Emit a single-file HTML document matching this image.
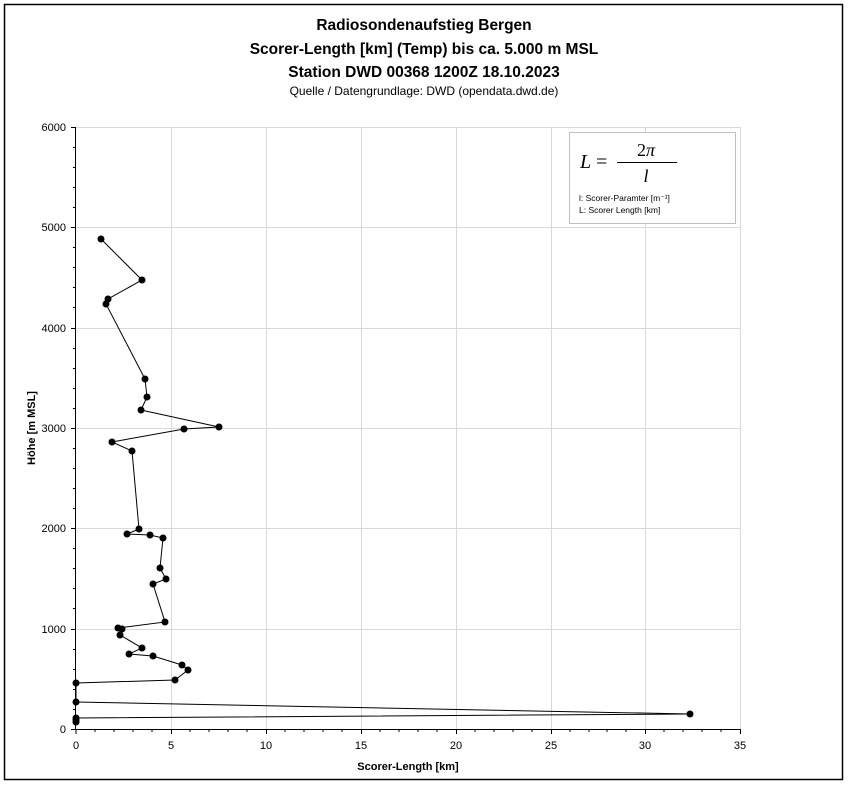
<!DOCTYPE html>
<html><head><meta charset="utf-8"><style>
body{margin:0;background:#fff;}
svg{display:block;font-family:"Liberation Sans",sans-serif;}
</style></head><body>
<svg width="848" height="785" viewBox="0 0 848 785">
<rect x="0" y="0" width="848" height="785" fill="#fff"/>
<rect x="4.5" y="4.5" width="838" height="775" fill="none" stroke="#000" stroke-width="1.5"/>
<g text-anchor="middle" font-weight="bold" font-size="15.5" fill="#000">
<text x="424" y="30">Radiosondenaufstieg Bergen</text>
<text x="424" y="54">Scorer-Length [km] (Temp) bis ca. 5.000 m MSL</text>
<text x="424" y="77">Station DWD 00368 1200Z 18.10.2023</text>
</g>
<text x="424" y="95" text-anchor="middle" font-size="12">Quelle / Datengrundlage: DWD (opendata.dwd.de)</text>
<g stroke="#d9d9d9" stroke-width="1">
<line x1="76" y1="127.5" x2="740" y2="127.5"/>
<line x1="76" y1="227.5" x2="740" y2="227.5"/>
<line x1="76" y1="328.5" x2="740" y2="328.5"/>
<line x1="76" y1="428.5" x2="740" y2="428.5"/>
<line x1="76" y1="528.5" x2="740" y2="528.5"/>
<line x1="76" y1="629.5" x2="740" y2="629.5"/>
<line x1="171.5" y1="127" x2="171.5" y2="729"/>
<line x1="266.5" y1="127" x2="266.5" y2="729"/>
<line x1="361.5" y1="127" x2="361.5" y2="729"/>
<line x1="456.5" y1="127" x2="456.5" y2="729"/>
<line x1="551.5" y1="127" x2="551.5" y2="729"/>
<line x1="645.5" y1="127" x2="645.5" y2="729"/>
<line x1="740.5" y1="127" x2="740.5" y2="729"/>
</g>
<g stroke="#000" stroke-width="1">
<line x1="75.5" y1="127" x2="75.5" y2="729.5"/>
<line x1="75" y1="729.5" x2="740" y2="729.5"/>
<path id="yt" d=""/>
</g>
<g stroke="#000" stroke-width="1" id="ticks"></g>
<g font-size="11" fill="#000" text-anchor="end">
<text x="66" y="131">6000</text><text x="66" y="231">5000</text><text x="66" y="332">4000</text>
<text x="66" y="432">3000</text><text x="66" y="532">2000</text><text x="66" y="633">1000</text><text x="66" y="733">0</text>
</g>
<g font-size="11" fill="#000" text-anchor="middle">
<text x="76" y="749">0</text><text x="171" y="749">5</text><text x="266" y="749">10</text><text x="361" y="749">15</text>
<text x="456" y="749">20</text><text x="551" y="749">25</text><text x="645" y="749">30</text><text x="740" y="749">35</text>
</g>
<text x="408" y="770" text-anchor="middle" font-size="11" font-weight="bold">Scorer-Length [km]</text>
<text transform="translate(35,428) rotate(-90)" text-anchor="middle" font-size="11" font-weight="bold">Höhe [m MSL]</text>
<rect x="569.5" y="132.5" width="166" height="91" fill="#fff" stroke="#bfbfbf"/>
<text x="580" y="168" font-family="Liberation Serif,serif" font-style="italic" font-size="20">L</text>
<text x="596" y="168" font-family="Liberation Serif,serif" font-size="20">=</text>
<line x1="617" y1="162.5" x2="677" y2="162.5" stroke="#000"/>
<text x="646" y="156" text-anchor="middle" font-family="Liberation Serif,serif" font-size="18">2<tspan font-style="italic">π</tspan></text>
<text x="646" y="182" text-anchor="middle" font-family="Liberation Serif,serif" font-style="italic" font-size="18">l</text>
<text x="579" y="201" font-size="8.5">l: Scorer-Paramter [m⁻¹]</text>
<text x="579" y="213" font-size="8.5">L: Scorer Length [km]</text>
<polyline fill="none" stroke="#000" stroke-width="1" points="101,239 142,280 108,299 106,304 145,379 147,397 141,410 219,427 184,429 112,442 132,451 139,529 127,534 150,535 163,538 160,568 166,579 153,584 165,622 118,628 122,629 120,635 142,648 129,654 153,656 182,665 188,670 175,680 76,683 76,702 690,714 76,718 76,720 76,722"/>
<g fill="#000">
<circle cx="101" cy="239" r="3.5"/><circle cx="142" cy="280" r="3.5"/><circle cx="108" cy="299" r="3.5"/><circle cx="106" cy="304" r="3.5"/><circle cx="145" cy="379" r="3.5"/><circle cx="147" cy="397" r="3.5"/><circle cx="141" cy="410" r="3.5"/><circle cx="219" cy="427" r="3.5"/><circle cx="184" cy="429" r="3.5"/><circle cx="112" cy="442" r="3.5"/><circle cx="132" cy="451" r="3.5"/><circle cx="139" cy="529" r="3.5"/><circle cx="127" cy="534" r="3.5"/><circle cx="150" cy="535" r="3.5"/><circle cx="163" cy="538" r="3.5"/><circle cx="160" cy="568" r="3.5"/><circle cx="166" cy="579" r="3.5"/><circle cx="153" cy="584" r="3.5"/><circle cx="165" cy="622" r="3.5"/><circle cx="118" cy="628" r="3.5"/><circle cx="122" cy="629" r="3.5"/><circle cx="120" cy="635" r="3.5"/><circle cx="142" cy="648" r="3.5"/><circle cx="129" cy="654" r="3.5"/><circle cx="153" cy="656" r="3.5"/><circle cx="182" cy="665" r="3.5"/><circle cx="188" cy="670" r="3.5"/><circle cx="175" cy="680" r="3.5"/><circle cx="76" cy="683" r="3.5"/><circle cx="76" cy="702" r="3.5"/><circle cx="690" cy="714" r="3.5"/><circle cx="76" cy="718" r="3.5"/><circle cx="76" cy="720" r="3.5"/><circle cx="76" cy="722" r="3.5"/>
</g>
<g stroke="#000" stroke-width="1">
<path d="M71 127.5h5M71 227.5h5M71 328.5h5M71 428.5h5M71 528.5h5M71 629.5h5M71 729.5h5
M73 147.5h3M73 167.5h3M73 187.5h3M73 207.5h3M73 247.5h3M73 267.5h3M73 287.5h3M73 307.5h3M73 348.5h3M73 368.5h3M73 388.5h3M73 408.5h3M73 448.5h3M73 468.5h3M73 488.5h3M73 508.5h3M73 548.5h3M73 568.5h3M73 588.5h3M73 608.5h3M73 649.5h3M73 669.5h3M73 689.5h3M73 709.5h3"/>
<path d="M76 729v5M171.5 729v5M266.5 729v5M361.5 729v5M456.5 729v5M551.5 729v5M645.5 729v5M740.5 729v5
M95 729v3M114 729v3M133 729v3M152 729v3M190 729v3M209 729v3M228 729v3M247 729v3M285 729v3M304 729v3M323 729v3M342 729v3M380 729v3M399 729v3M418 729v3M437 729v3M475 729v3M494 729v3M513 729v3M532 729v3M570 729v3M589 729v3M607 729v3M626 729v3M664 729v3M683 729v3M702 729v3M721 729v3"/>
</g>
</svg>
</body></html>
